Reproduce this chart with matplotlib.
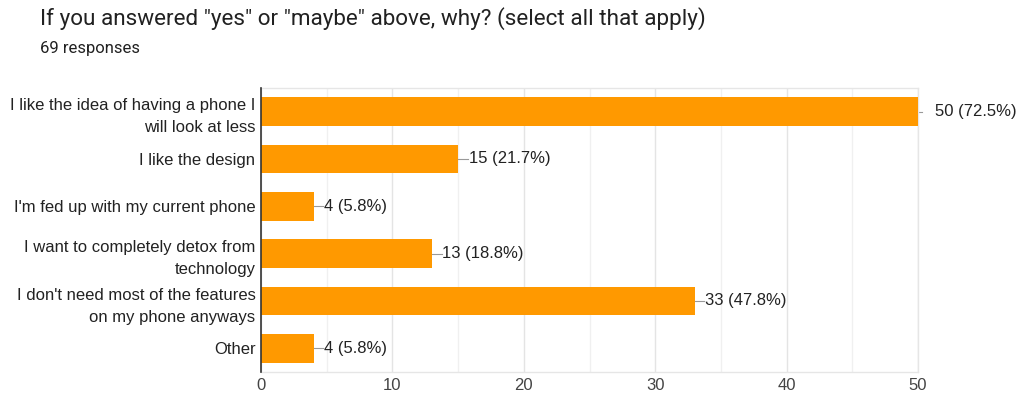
import numpy as np
import matplotlib
import matplotlib.pyplot as plt

categories = ["I like the idea of having a phone I\nwill look at less",
              "I like the design",
              "I'm fed up with my current phone",
              "I want to completely detox from\ntechnology",
              "I don't need most of the features\non my phone anyways",
              "Other"]
counts = [50, 15, 4, 13, 33, 4]
total = 69

matplotlib.rcParams['font.family'] = ['Liberation Sans', 'DejaVu Sans']
fig = plt.figure(figsize=(10.17, 3.98), dpi=100)
ax = fig.add_axes([261 / 1017, 1 - 372 / 398, (918 - 261) / 1017, (372 - 88) / 398])

y = np.arange(len(categories))
ax.barh(y, counts, height=0.61, color='#ff9900', zorder=3)
ax.set_ylim(len(categories) - 0.5, -0.5)
ax.set_xlim(0, 50)
ax.set_xticks(range(0, 51, 10))
ax.set_xticks(range(5, 50, 10), minor=True)
ax.grid(axis='x', which='major', color='#e4e4e4', lw=1, zorder=0)
ax.grid(axis='x', which='minor', color='#f0f0f0', lw=1, zorder=0)
ax.set_yticks(y)
ax.set_yticklabels(categories, fontsize=12, color='#222222', linespacing=1.6)
ax.tick_params(axis='both', which='both', length=0, labelsize=12, colors='#444444')
ax.tick_params(axis='y', pad=4, labelcolor='#222222')
ax.tick_params(axis='x', pad=4)
for s in ['top', 'right', 'bottom']:
    ax.spines[s].set_color('#e6e6e6')
    ax.spines[s].set_linewidth(1)
ax.spines['left'].set_color('#333333')
ax.spines['left'].set_linewidth(1.2)
ax.spines['left'].set_zorder(4)

for yi, c in zip(y, counts):
    lbl = f"{c} ({c / total * 100:.1f}%)"
    if c >= 50:
        ax.plot([c, c + 0.3], [yi, yi], color='#999999', lw=0.8, clip_on=False)
        ax.text(c + 1.3, yi, lbl, va='center', ha='left', fontsize=12, color='#222222')
    else:
        ax.plot([c, c + 0.75], [yi, yi], color='#999999', lw=0.8, zorder=4)
        ax.text(c + 0.8, yi, lbl, va='center', ha='left', fontsize=12, color='#222222')

fig.text(40 / 1017, 1 - 19 / 398, 'If you answered "yes" or "maybe" above, why? (select all that apply)',
         fontsize=16.2, color='#212121', va='center', family=['Roboto', 'DejaVu Sans'])
fig.text(40 / 1017, 1 - 48 / 398, '69 responses', fontsize=12, color='#212121', va='center',
         family=['Roboto', 'DejaVu Sans'])

plt.savefig('out.png', dpi=100)
